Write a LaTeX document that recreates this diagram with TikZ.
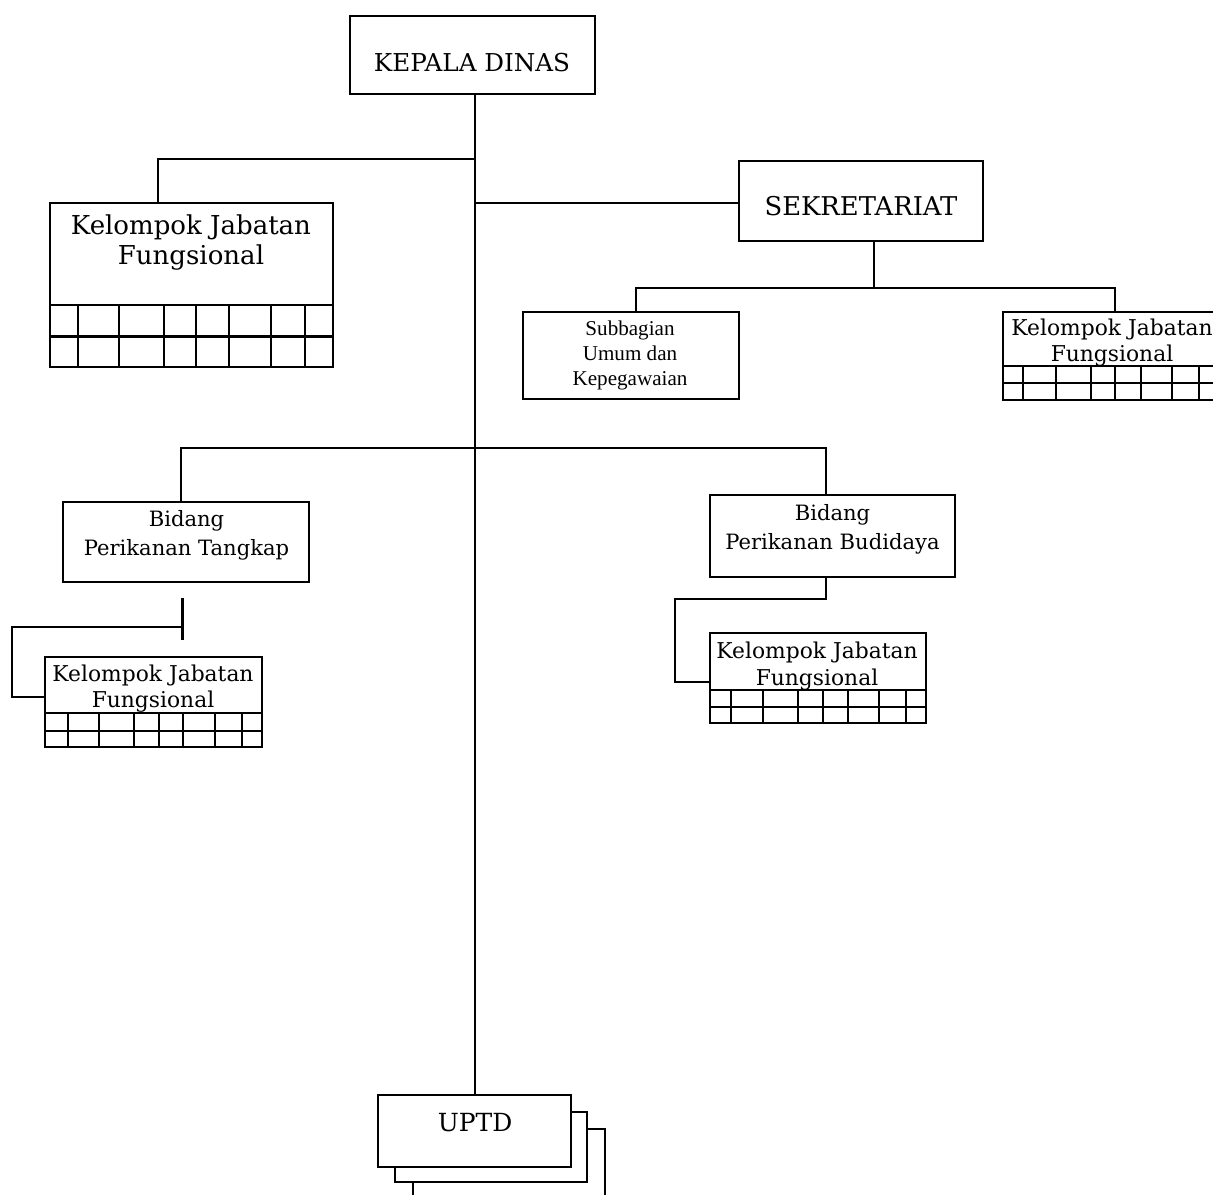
\documentclass[tikz,border=0pt]{standalone}
\usepackage{fontspec}
\setmainfont{DejaVu Serif}
\newfontfamily\tmsfam{Liberation Serif}
\usetikzlibrary{fit}
\tikzset{
  ln/.style={line width=0.6pt},
  bx/.style={draw, line width=0.6pt, inner sep=0pt, fill=white},
  txt/.style={inner sep=0pt, anchor=base, align=center},
  big/.style={font=\fontsize{7pt}{9pt}\selectfont},
  kjfbig/.style={font=\fontsize{7.4pt}{8.25pt}\selectfont},
  kjfsmall/.style={font=\fontsize{6.2pt}{7.4pt}\selectfont},
  bid/.style={font=\fontsize{6.0pt}{8.1pt}\selectfont},
  subf/.style={font=\tmsfam\fontsize{6pt}{7.1pt}\selectfont},
}
\begin{document}
\begin{tikzpicture}[x=0.01cm,y=-0.01cm]
\useasboundingbox (0,0) rectangle (1213,1194);
% ---- boxes
\node[bx, fit={(350,16) (595,94)}] (kd) {};
\node[txt, big] (kdt) at (472,71.7) {KEPALA DINAS};

\node[bx, fit={(50,203) (332.7,367)}] (kjf1) {};
\node[txt, kjfbig] (kjf1t) at (191,264) {Kelompok Jabatan\\Fungsional};
\draw[ln] (50,305) -- (332.7,305) (50,336.5) -- (332.7,336.5);
\foreach \c in {77.7,119.3,164,196,229.3,270.7,305} \draw[ln] (\c,305) -- (\c,367);

\node[bx, fit={(739,160.7) (983.3,241)}] (sek) {};
\node[txt, font=\fontsize{7.35pt}{9pt}\selectfont] (sekt) at (861,215) {SEKRETARIAT};

\node[bx, fit={(523.3,311.7) (739.3,399.3)}] (sub) {};
\node[txt, subf] (subt) at (630,385) {Subbagian\\Umum dan\\Kepegawaian};

\node[bx, fit={(1002.7,311.7) (1222,400)}] (kjf2) {};
\node[txt, kjfsmall] (kjf2t) at (1112,361.7) {Kelompok Jabatan\\Fungsional};
\draw[ln] (1002.7,366) -- (1222,366) (1002.7,383.3) -- (1222,383.3);
\foreach \c in {1023.3,1056,1090.7,1115.3,1140.7,1172,1199.3} \draw[ln] (\c,366) -- (\c,400);

\node[bx, fit={(63.3,501.7) (309.3,581.7)}] (bpt) {};
\node[txt, bid] (bptt) at (186.5,555) {Bidang\\Perikanan Tangkap};

\node[bx, fit={(710,495) (955,576.7)}] (bpb) {};
\node[txt, bid] (bpbt) at (832.5,549) {Bidang\\Perikanan Budidaya};

\node[bx, fit={(45,657.3) (261.7,746.7)}] (kjf3) {};
\node[txt, kjfsmall] (kjf3t) at (153,707.7) {Kelompok Jabatan\\Fungsional};
\draw[ln] (45,713.3) -- (261.7,713.3) (45,730.7) -- (261.7,730.7);
\foreach \c in {67.7,99.3,134,159,183.3,215,241.7} \draw[ln] (\c,713.3) -- (\c,746.7);

\node[bx, fit={(710,633.3) (925.7,723.3)}] (kjf4) {};
\node[txt, kjfsmall] (kjf4t) at (817,685) {Kelompok Jabatan\\Fungsional};
\draw[ln] (710,690) -- (925.7,690) (710,706.7) -- (925.7,706.7);
\foreach \c in {731,763.3,797.7,822.7,847.7,879.3,905.7} \draw[ln] (\c,690) -- (\c,723.3);

% UPTD stack
\node[bx, fit={(412.7,1129) (605,1204)}] (uptd3) {};
\node[bx, fit={(395,1111.7) (586.7,1182.3)}] (uptd2) {};
\node[bx, fit={(378.3,1095) (571,1166.7)}] (uptd) {};
\node[txt, font=\fontsize{7.1pt}{9pt}\selectfont] (uptdt) at (475,1131.7) {UPTD};

% ---- connectors
\coordinate (mx) at (475,0);
\draw[ln] (kd.south -| mx) -- (uptd.north -| mx);

\coordinate (j1) at (475,159);
\coordinate (c1) at (158.3,0);
\draw[ln] (j1) -| (kjf1.north -| c1);

\coordinate (j2) at (475,203);
\draw[ln] (j2) -- (sek.west |- j2);

\coordinate (c2) at (874,0);
\coordinate (h2) at (0,288);
\coordinate (cs) at (636,0);
\coordinate (ck) at (1115,0);
\draw[ln] (sek.south -| c2) -- (c2 |- h2);
\draw[ln] (sub.north -| cs) -- (cs |- h2) -- (ck |- h2) -- (kjf2.north -| ck);

\coordinate (h3) at (0,448);
\coordinate (cb1) at (181,0);
\coordinate (cb2) at (826,0);
\draw[ln] (bpt.north -| cb1) -- (cb1 |- h3) -- (cb2 |- h3) -- (bpb.north -| cb2);

% left stub
\coordinate (s1) at (182.5,598);
\coordinate (s2) at (182.5,640);
\coordinate (s3) at (182.5,626.7);
\coordinate (s4) at (11.7,626.7);
\coordinate (s5) at (11.7,696.7);
\draw[ln] (s1) -- (s2);
\draw[ln] (s3) -- (s4) -- (s5) -- (kjf3.west |- s5);

% right stub
\coordinate (r1) at (826,599);
\coordinate (r2) at (675,599);
\coordinate (r3) at (675,682);
\draw[ln] (bpb.south -| cb2) -- (r1) -- (r2) -- (r3) -- (kjf4.west |- r3);
\end{tikzpicture}
\end{document}
